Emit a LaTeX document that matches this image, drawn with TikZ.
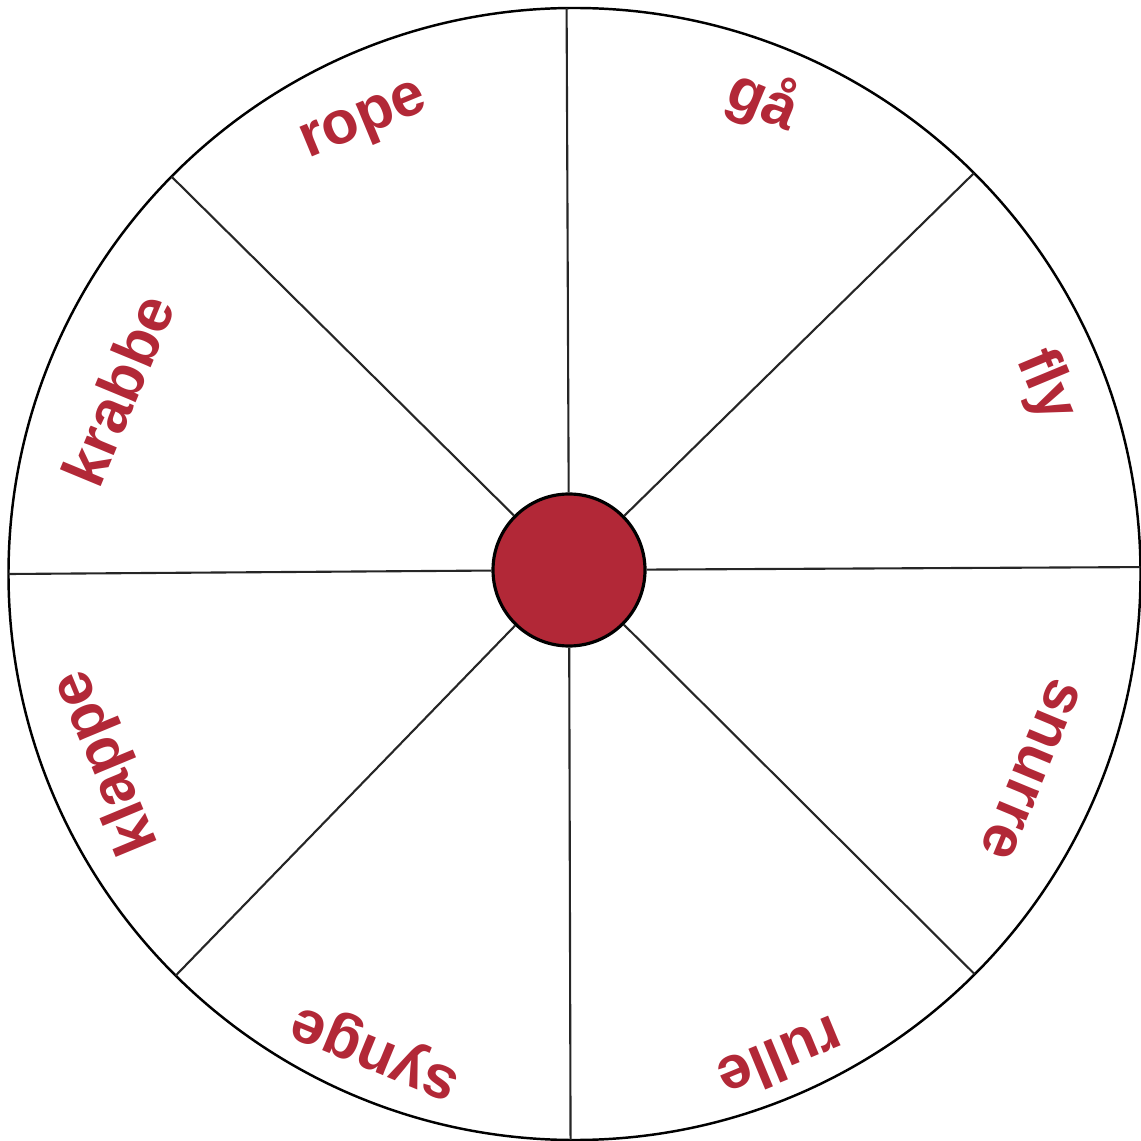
\documentclass[tikz,border=0pt]{standalone}
\usepackage{fontspec}
\setmainfont{Liberation Sans}
\usetikzlibrary{calc}
\definecolor{wheelred}{HTML}{B22837}
\tikzset{
  rim/.style={draw=black, line width=0.7pt},
  spoke/.style={draw=black!85, line width=0.6pt},
  hub/.style={circle, draw=black, line width=0.9pt, fill=wheelred, minimum size=1.52cm, inner sep=0pt},
  word/.style={text=wheelred, font=\fontsize{17.3}{20}\selectfont\bfseries, inner sep=0pt},
}
\begin{document}
\begin{tikzpicture}
  \useasboundingbox (0,0) rectangle (11.41,11.40);
  \coordinate (c) at (5.745,5.66);
  \draw[rim] (c) circle (5.66);
  % points on the rim where the spokes end
  \foreach \a [count=\i] in {0.7,45.1,90.8,135.4,180,225.2,269.6,315}
    \coordinate (r\i) at ($(c)+(\a:5.66)$);
  \node[hub] (hub) at (5.69,5.70) {};
  \foreach \i in {1,...,8} \draw[spoke] (hub) -- (r\i);
  % the eight words
  \foreach \w/\x/\y/\r [count=\i] in {gå/7.63/10.39/-22.5, fly/10.45/7.54/-67.5,
      snurre/10.31/3.71/-112.5, rulle/7.81/0.81/-157.5, synge/3.77/0.91/157.5,
      klappe/1.07/3.78/112.5, krabbe/1.18/7.50/67.5, rope/3.65/10.16/22.5}
    \node[word, rotate=\r] (w\i) at (\x,\y) {\w};
\end{tikzpicture}
\end{document}
